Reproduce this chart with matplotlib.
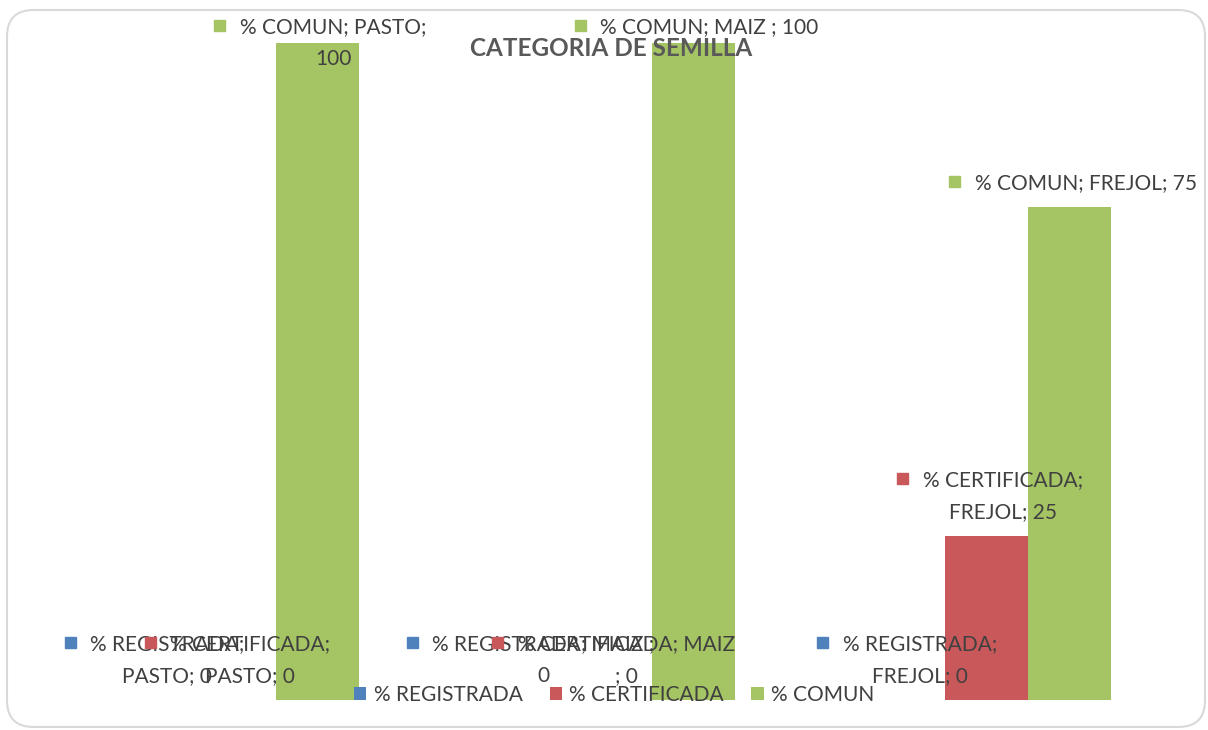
import numpy as np
import matplotlib.pyplot as plt
from matplotlib.patches import FancyBboxPatch, Rectangle
from matplotlib.transforms import IdentityTransform

# --- data ---
categories = ['PASTO', 'MAIZ ', 'FREJOL']
series_names = ['% REGISTRADA', '% CERTIFICADA', '% COMUN']
registrada = [0, 0, 0]
certificada = [0, 0, 25]
comun = [100, 100, 75]
# words kept on the first line of each wrapped data label (None = one line)
wrap_words = [[2, 4, 2],
              [2, 3, 2],
              [3, None, None]]

colors = ['#4F81BD', '#C9585A', '#A5C463']
text_col = '#404040'

plt.rcParams['font.family'] = ['Lato', 'DejaVu Sans']

W, H = 1208, 730
fig = plt.figure(figsize=(W / 100, H / 100), dpi=100)

# rounded chart border
fig.patches.append(FancyBboxPatch((7 / W, 3 / H), 1198 / W, 717 / H,
                                  boxstyle='round,pad=0,rounding_size=0.022',
                                  mutation_aspect=W / H, transform=fig.transFigure,
                                  fc='white', ec='#D9D9D9', lw=1.5, zorder=-1))

ax = fig.add_axes([46 / W, 30 / H, 1129 / W, 657 / H])
x = np.arange(len(categories))
w = 0.2205
data = [registrada, certificada, comun]
for i, vals in enumerate(data):
    ax.bar(x + (i - 1) * w, vals, w, color=colors[i], label=series_names[i])
ax.set_xlim(-0.5, len(categories) - 0.5)
ax.set_ylim(0, 100)
ax.axis('off')

# data labels (series; category; value) with a legend key
labels = []
for i, vals in enumerate(data):
    for j, v in enumerate(vals):
        words = f'{series_names[i]}; {categories[j]}; {v}'.split(' ')
        n = wrap_words[i][j]
        txt = ' '.join(words) if n is None else ' '.join(words[:n]) + '\n' + ' '.join(words[n:])
        t = ax.annotate(txt, (x[j] + (i - 1) * w, v), xytext=(16, 14),
                        textcoords='offset pixels', ha='center', va='bottom',
                        fontsize=15, color=text_col, linespacing=1.75,
                        annotation_clip=False)
        labels.append((t, colors[i]))

fig.text(611 / W, 1 - 48 / H, 'CATEGORIA DE SEMILLA', ha='center', va='center',
         fontsize=17.5, fontweight='bold', color='#595959')

ax.legend(loc='center', bbox_to_anchor=(614 / W, 1 - 695 / H),
          bbox_transform=fig.transFigure, ncol=3, frameon=False, fontsize=15,
          labelcolor=text_col, handlelength=0.6, handleheight=0.6,
          handletextpad=0.35, columnspacing=1.3)

# keep labels inside the chart area, then add the key squares
fig.canvas.draw()
r = fig.canvas.get_renderer()
top_limit = H - 17
for t, c in labels:
    bb = t.get_window_extent(r)
    if bb.y1 > top_limit:
        dx, dy = t.xyann
        t.xyann = (dx, dy - (bb.y1 - top_limit))
fig.canvas.draw()
for t, c in labels:
    bb = t.get_window_extent(r)
    lw_, lh_, ld_ = r.get_text_width_height_descent('lp', t.get_fontproperties(), ismath=False)
    base1 = bb.y1 - (lh_ - ld_)
    cy = base1 + 0.35 * 15 * 100 / 72
    cx = bb.x0 - 20
    fig.add_artist(Rectangle((cx - 5.5, cy - 5.5), 11, 11, transform=IdentityTransform(),
                             color=c, zorder=4))

fig.savefig('out.png', dpi=100)
